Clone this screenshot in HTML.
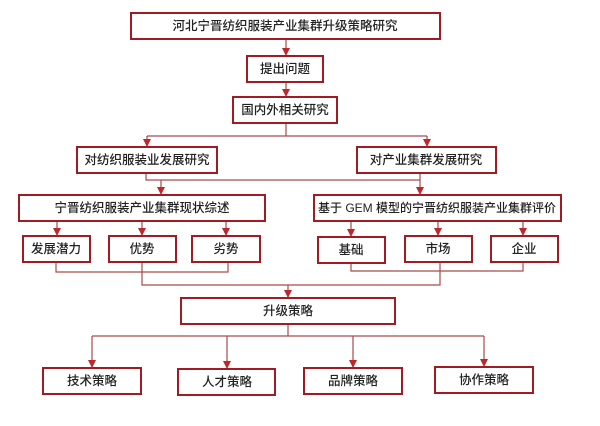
<!DOCTYPE html>
<html><head><meta charset="utf-8"><style>
body{margin:0;background:#fff;}
svg text{font-family:"Liberation Sans","Noto Sans CJK SC",sans-serif;font-size:12.5px;fill:#222;text-anchor:middle;dominant-baseline:central;font-weight:500;}
</style></head><body>
<svg width="600" height="421" viewBox="0 0 600 421" xmlns="http://www.w3.org/2000/svg">
<defs><marker id="a" markerWidth="9" markerHeight="9" refX="8" refY="4" orient="auto" markerUnits="userSpaceOnUse"><path d="M0,0 L8,4 L0,8 z" fill="#c0272d"/></marker></defs>
<g fill="none" stroke="#a84a4d" stroke-width="1.2">
<path d="M286,39 V56" marker-end="url(#a)"/>
<path d="M286,82 V97" marker-end="url(#a)"/>
<path d="M286,123 V136 M147,136 H427"/>
<path d="M147,136 V147" marker-end="url(#a)"/>
<path d="M427,136 V147" marker-end="url(#a)"/>
<path d="M146,173 V180 H420 M420,173 V180"/>
<path d="M161,180 V195" marker-end="url(#a)"/>
<path d="M420,180 V195" marker-end="url(#a)"/>
<path d="M57,221 V236" marker-end="url(#a)"/>
<path d="M142,221 V236" marker-end="url(#a)"/>
<path d="M226,221 V236" marker-end="url(#a)"/>
<path d="M351,221 V237" marker-end="url(#a)"/>
<path d="M438,221 V236" marker-end="url(#a)"/>
<path d="M523,221 V236" marker-end="url(#a)"/>
<path d="M56,262 V272 H228 V262"/>
<path d="M351,264 V271 H523 V262"/>
<path d="M142,262 V285 H440 V262"/>
<path d="M288,285 V298" marker-end="url(#a)"/>
<path d="M288,324 V336 M92,336 H484"/>
<path d="M92,336 V368" marker-end="url(#a)"/>
<path d="M227,336 V369" marker-end="url(#a)"/>
<path d="M353,336 V368" marker-end="url(#a)"/>
<path d="M484,336 V367" marker-end="url(#a)"/>
</g>
<g fill="#fff" stroke="#a01c22" stroke-width="2">
<rect x="131" y="13" width="309" height="26"/>
<rect x="247" y="56" width="76" height="26"/>
<rect x="233" y="97" width="104" height="26"/>
<rect x="77" y="147" width="140" height="26"/>
<rect x="357" y="147" width="139" height="26"/>
<rect x="19" y="195" width="246" height="26"/>
<rect x="314" y="195" width="247" height="26"/>
<rect x="23" y="236" width="67" height="26"/>
<rect x="109" y="236" width="67" height="26"/>
<rect x="192" y="236" width="68" height="26"/>
<rect x="318" y="237" width="67" height="26"/>
<rect x="405" y="236" width="67" height="26"/>
<rect x="491" y="236" width="67" height="26"/>
<rect x="181" y="298" width="214" height="26"/>
<rect x="43" y="368" width="98" height="26"/>
<rect x="178" y="369" width="97" height="26"/>
<rect x="304" y="368" width="98" height="26"/>
<rect x="435" y="367" width="98" height="26"/>
</g>
<text x="285" y="26">河北宁晋纺织服装产业集群升级策略研究</text>
<text x="285" y="69">提出问题</text>
<text x="285" y="110">国内外相关研究</text>
<text x="147" y="160">对纺织服装业发展研究</text>
<text x="426" y="160">对产业集群发展研究</text>
<text x="142" y="208">宁晋纺织服装产业集群现状综述</text>
<text x="437" y="208" style="font-size:12px">基于 GEM 模型的宁晋纺织服装产业集群评价</text>
<text x="56" y="249">发展潜力</text>
<text x="142" y="249">优势</text>
<text x="226" y="249">劣势</text>
<text x="351" y="250">基础</text>
<text x="438" y="249">市场</text>
<text x="524" y="249">企业</text>
<text x="288" y="311">升级策略</text>
<text x="92" y="381">技术策略</text>
<text x="227" y="382">人才策略</text>
<text x="353" y="381">品牌策略</text>
<text x="484" y="380">协作策略</text>
</svg>
</body></html>
